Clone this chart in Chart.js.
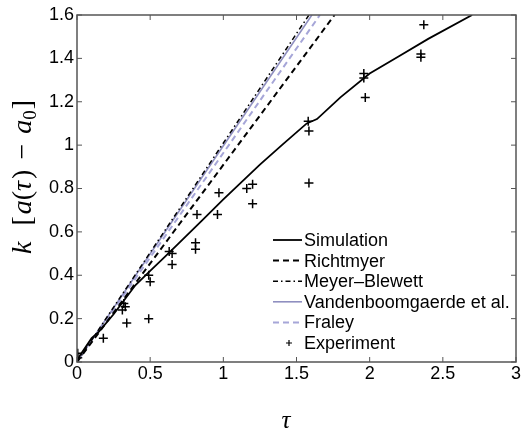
<!DOCTYPE html>
<html>
<head>
<meta charset="utf-8">
<script src="https://cdn.jsdelivr.net/npm/chart.js@4/dist/chart.umd.min.js"></script>
<style>
  body { margin: 0; background: #fff; }
  canvas { display: block; }
</style>
</head>
<body>
<canvas id="grafico" width="522" height="436"></canvas>
<script>
// valores
const tauSim = [0, 0.02, 0.1, 0.15, 0.25, 0.4, 0.5, 0.6, 0.7, 0.85, 1.0, 1.25, 1.4, 1.57, 1.64, 1.8, 2.0, 2.2, 2.4, 2.7];
const kSim   = [0, 0.03, 0.11, 0.14, 0.22, 0.355, 0.42, 0.485, 0.55, 0.65, 0.75, 0.91, 1.0, 1.10, 1.12, 1.22, 1.33, 1.41, 1.49, 1.60];

const tauRichtmyer = [0, 1.76];
const kRichtmyer   = [0, 1.6];
const tauMeyer = [0, 1.585];
const kMeyer   = [0, 1.6];
const tauVanden = [0, 1.605];
const kVanden   = [0, 1.6];
const tauFraley = [0, 1.66];
const kFraley   = [0, 1.6];

const tauExp = [0.005, 0.005, 0.18, 0.32, 0.31, 0.33, 0.34, 0.49, 0.5, 0.49, 0.63, 0.65, 0.65, 0.81, 0.81, 0.82, 0.96, 0.97, 1.16, 1.2, 1.2, 1.585, 1.585, 1.58, 1.96, 1.96, 1.97, 2.35, 2.35, 2.37];
const kExp   = [0.02, 0.04, 0.11, 0.27, 0.24, 0.255, 0.18, 0.20, 0.37, 0.40, 0.51, 0.50, 0.45, 0.52, 0.55, 0.68, 0.68, 0.78, 0.80, 0.82, 0.73, 0.825, 1.065, 1.11, 1.33, 1.31, 1.22, 1.405, 1.42, 1.555];

const xTicks = [0, 0.5, 1, 1.5, 2, 2.5, 3];
const yTicks = [0, 0.2, 0.4, 0.6, 0.8, 1, 1.2, 1.4, 1.6];

const pts = (xs, ys) => xs.map((x, i) => ({ x, y: ys[i] }));
const fonte = "'Liberation Sans', Arial, sans-serif";

// caixa, marcas para dentro, legenda e títulos
const moldura = {
  id: "moldura",
  afterDraw(chart) {
    const { ctx, chartArea: a, scales: { x, y } } = chart;
    ctx.save();
    ctx.strokeStyle = "#555";
    ctx.lineWidth = 1.5;
    ctx.strokeRect(a.left, a.top, a.right - a.left, a.bottom - a.top);
    ctx.lineWidth = 1;
    ctx.beginPath();
    xTicks.forEach(v => {
      const px = x.getPixelForValue(v);
      ctx.moveTo(px, a.bottom); ctx.lineTo(px, a.bottom - 5);
      ctx.moveTo(px, a.top); ctx.lineTo(px, a.top + 5);
    });
    yTicks.forEach(v => {
      const py = y.getPixelForValue(v);
      ctx.moveTo(a.left, py); ctx.lineTo(a.left + 5, py);
      ctx.moveTo(a.right, py); ctx.lineTo(a.right - 5, py);
    });
    ctx.stroke();

    // legenda
    let ly = 240;
    chart.data.datasets.forEach(ds => {
      ctx.save();
      ctx.strokeStyle = ds.borderColor;
      ctx.lineWidth = ds.borderWidth;
      if (ds.showLine) {
        ctx.setLineDash(ds.borderDash || []);
        ctx.beginPath();
        ctx.moveTo(273, ly); ctx.lineTo(302, ly);
        ctx.stroke();
      } else {
        ctx.lineWidth = 1.2;
        ctx.beginPath();
        ctx.moveTo(286, ly); ctx.lineTo(292, ly);
        ctx.moveTo(289, ly - 3); ctx.lineTo(289, ly + 3);
        ctx.stroke();
      }
      ctx.restore();
      ctx.fillStyle = "#000";
      ctx.font = "18px " + fonte;
      ctx.textBaseline = "middle";
      ctx.fillText(ds.label, 304, ly + 1);
      ly += 20.6;
    });

    // título do eixo x
    ctx.fillStyle = "#000";
    ctx.font = "italic 25px 'Liberation Serif', serif";
    ctx.textAlign = "center";
    ctx.textBaseline = "middle";
    ctx.fillText("τ", 286, 421);

    // título do eixo y: k [a(τ) − a0]
    const partes = [
      ["k", "italic 28px", 0, 16],
      ["[", "28px", 0, 2],
      ["a", "italic 28px", 0, 0],
      ["(", "28px", 0, 0],
      ["τ", "italic 28px", 0, 2],
      [")", "28px", 0, 10],
      ["−", "28px", 0, 10],
      ["a", "italic 28px", 0, 0],
      ["0", "19px", 5, 1],
      ["]", "28px", 0, 0]
    ];
    let total = 0;
    partes.forEach(p => {
      ctx.font = p[1] + " 'Liberation Serif', serif";
      total += ctx.measureText(p[0]).width + p[3];
    });
    ctx.translate(22, 177);
    ctx.rotate(-Math.PI / 2);
    ctx.textAlign = "left";
    ctx.textBaseline = "alphabetic";
    let cx = -total / 2;
    partes.forEach(p => {
      ctx.font = p[1] + " 'Liberation Serif', serif";
      ctx.fillText(p[0], cx, 9 + p[2]);
      cx += ctx.measureText(p[0]).width + p[3];
    });
    ctx.restore();
  }
};

new Chart(document.getElementById("grafico"), {
  type: "scatter",
  data: {
    datasets: [
      {
        label: "Simulation",
        data: pts(tauSim, kSim),
        showLine: true,
        borderColor: "#000",
        borderWidth: 1.8,
        pointRadius: 0
      },
      {
        label: "Richtmyer",
        data: pts(tauRichtmyer, kRichtmyer),
        showLine: true,
        borderColor: "#000",
        borderWidth: 2,
        borderDash: [6, 4],
        pointRadius: 0
      },
      {
        label: "Meyer\u2013Blewett",
        data: pts(tauMeyer, kMeyer),
        showLine: true,
        borderColor: "#000",
        borderWidth: 1.5,
        borderDash: [5, 3, 1.5, 3],
        pointRadius: 0
      },
      {
        label: "Vandenboomgaerde et al.",
        data: pts(tauVanden, kVanden),
        showLine: true,
        borderColor: "#8f8fc0",
        borderWidth: 1.6,
        pointRadius: 0
      },
      {
        label: "Fraley",
        data: pts(tauFraley, kFraley),
        showLine: true,
        borderColor: "#a6a6d8",
        borderWidth: 2,
        borderDash: [6, 4],
        pointRadius: 0
      },
      {
        label: "Experiment",
        data: pts(tauExp, kExp),
        showLine: false,
        borderColor: "#000",
        borderWidth: 1.5,
        pointStyle: "cross",
        pointRadius: 4.5
      }
    ]
  },
  options: {
    responsive: false,
    animation: false,
    layout: { padding: { top: 15, right: 4, left: 0, bottom: 0 } },
    plugins: { legend: { display: false }, tooltip: { enabled: false } },
    scales: {
      x: {
        type: "linear",
        min: 0,
        max: 3,
        grid: { display: false, drawTicks: false },
        border: { display: false },
        afterBuildTicks: s => { s.ticks = xTicks.map(v => ({ value: v })); },
        afterFit: s => { s.height = 74; s.paddingLeft = 0; s.paddingRight = 0; },
        ticks: { color: "#000", padding: 1, font: { family: fonte, size: 18 }, maxRotation: 0, callback: v => String(v) }
      },
      y: {
        type: "linear",
        min: 0,
        max: 1.6,
        grid: { display: false, drawTicks: false },
        border: { display: false },
        afterBuildTicks: s => { s.ticks = yTicks.map(v => ({ value: v })); },
        afterFit: s => { s.width = 77; s.paddingTop = 0; s.paddingBottom = 0; },
        ticks: { color: "#000", padding: 3, font: { family: fonte, size: 18 }, callback: v => String(v) }
      }
    }
  },
  plugins: [moldura]
});
</script>
</body>
</html>
